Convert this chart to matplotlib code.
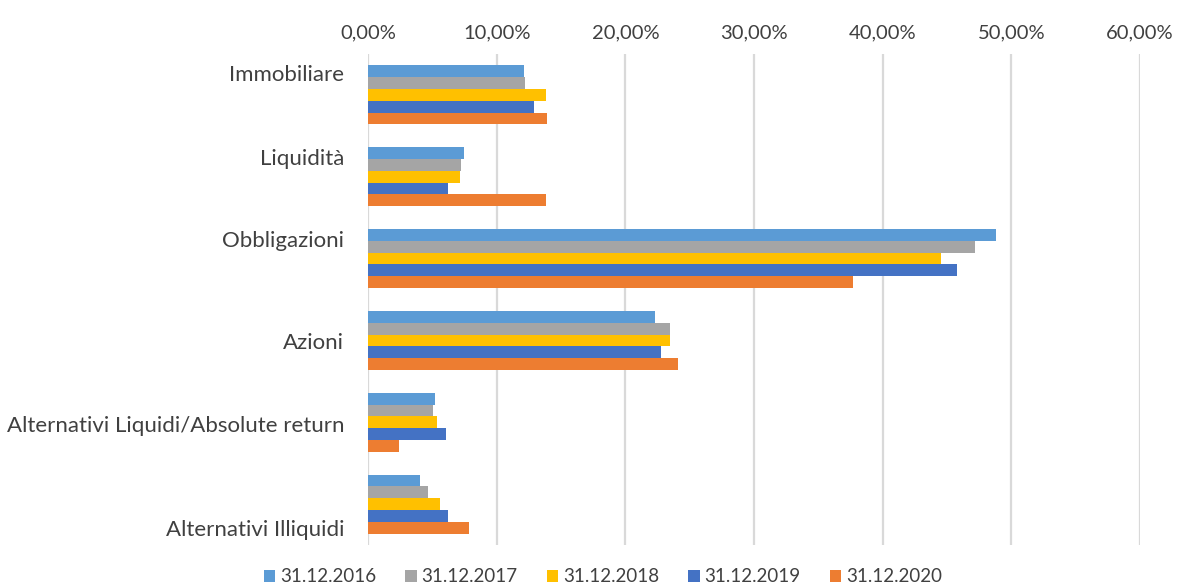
import matplotlib
matplotlib.use("Agg")
import matplotlib.pyplot as plt
import numpy as np
from matplotlib.ticker import FuncFormatter, MultipleLocator

plt.rcParams['font.family'] = ['Lato', 'DejaVu Sans']

categories = ['Immobiliare', 'Liquidità', 'Obbligazioni', 'Azioni',
              'Alternativi Liquidi/Absolute return', 'Alternativi Illiquidi']
years = ['31.12.2016', '31.12.2017', '31.12.2018', '31.12.2019', '31.12.2020']

# percent values per year, same order as categories
v2016 = [12.1, 7.5, 48.8, 22.3, 5.2, 4.05]
v2017 = [12.2, 7.2, 47.2, 23.5, 5.05, 4.65]
v2018 = [13.8, 7.15, 44.5, 23.5, 5.4, 5.6]
v2019 = [12.9, 6.2, 45.8, 22.8, 6.05, 6.2]
v2020 = [13.9, 13.8, 37.7, 24.1, 2.4, 7.85]
series = [v2016, v2017, v2018, v2019, v2020]

colors = ['#5B9BD5', '#A5A5A5', '#FFC000', '#4472C4', '#ED7D31']
text_col = '#404040'

fig = plt.figure(figsize=(11.84, 5.86), dpi=100)
ax = fig.add_axes([368 / 1184, 1 - 545 / 586, (1140 - 368) / 1184, (545 - 54) / 586])

y = np.arange(len(categories))
h = 0.72 / len(series)
for j, (vals, col, lab) in enumerate(zip(series, colors, years)):
    ax.barh(y + (j - 2) * h, vals, height=h, color=col, label=lab, zorder=3)

ax.set_xlim(0, 60)
ax.set_ylim(len(categories) - 0.5, -0.5)
ax.xaxis.set_major_locator(MultipleLocator(10))
ax.xaxis.set_major_formatter(FuncFormatter(lambda v, p: f"{v:.2f}%".replace('.', ',')))
ax.xaxis.tick_top()
ax.tick_params(axis='x', length=0, labelsize=14.5, labelcolor=text_col, pad=9)
ax.grid(axis='x', color='#D9D9D9', linewidth=1.6, zorder=0)
for s in ax.spines.values():
    s.set_visible(False)

# category labels (Excel placed them slightly off the group centres)
ax.set_yticks([])
label_shift = [-14, -13, -13, 2, 3, 19]
for i, (cat, dy) in enumerate(zip(categories, label_shift)):
    ax.annotate(cat, xy=(0, i), xycoords=('axes fraction', 'data'),
                xytext=(-17, -dy), textcoords='offset points',
                ha='right', va='center', fontsize=16, color=text_col)

fig.legend(loc='center', bbox_to_anchor=(603 / 1184, 1 - 577 / 586), ncol=5, frameon=False,
           fontsize=13.5, labelcolor=text_col, handlelength=0.6, handleheight=0.6,
           handletextpad=0.27, columnspacing=1.55, borderpad=0)

fig.savefig('out.png', dpi=100)
